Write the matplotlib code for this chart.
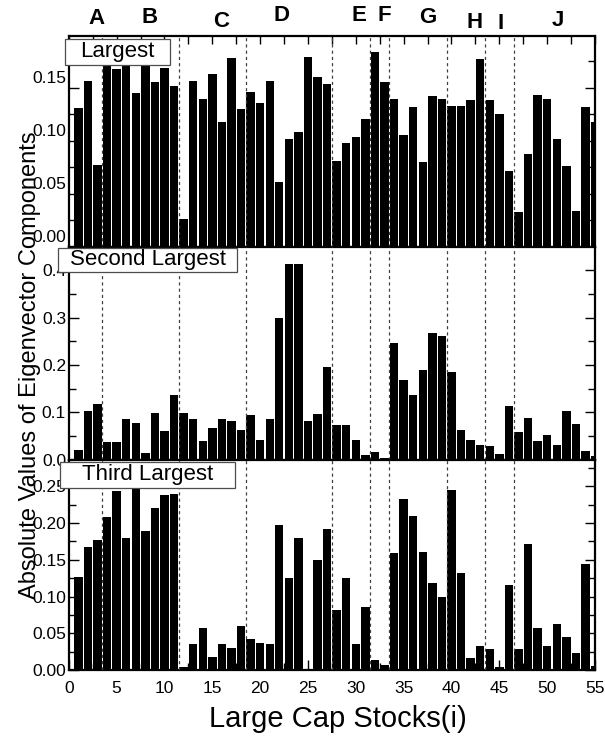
import numpy as np
import matplotlib
matplotlib.use("Agg")
import matplotlib.pyplot as plt
import matplotlib.transforms as mtransforms
from matplotlib.patches import Rectangle

plt.rcParams['font.family'] = ['Liberation Sans', 'DejaVu Sans']

# stock index 1..55
stocks = np.arange(1, 56)

largest = [0.131, 0.157, 0.077, 0.175, 0.168, 0.178, 0.145, 0.180, 0.156, 0.169,
           0.152, 0.026, 0.157, 0.140, 0.163, 0.118, 0.178, 0.130, 0.146, 0.136,
           0.157, 0.061, 0.102, 0.108, 0.179, 0.160, 0.154, 0.081, 0.098, 0.104,
           0.121, 0.184, 0.156, 0.140, 0.106, 0.132, 0.080, 0.142, 0.140, 0.133,
           0.133, 0.139, 0.177, 0.139, 0.125, 0.072, 0.033, 0.088, 0.143, 0.140,
           0.102, 0.076, 0.034, 0.132, 0.118]

second = [0.020, 0.102, 0.117, 0.038, 0.037, 0.085, 0.077, 0.013, 0.099, 0.061,
          0.136, 0.098, 0.086, 0.039, 0.067, 0.085, 0.082, 0.063, 0.095, 0.042,
          0.086, 0.298, 0.414, 0.414, 0.082, 0.097, 0.196, 0.072, 0.073, 0.042,
          0.0085, 0.0155, 0.003, 0.247, 0.168, 0.136, 0.189, 0.268, 0.261, 0.185,
          0.063, 0.041, 0.030, 0.0275, 0.012, 0.113, 0.059, 0.087, 0.039, 0.051,
          0.030, 0.1035, 0.075, 0.0175, 0.007]

third = [0.126, 0.168, 0.177, 0.208, 0.243, 0.180, 0.252, 0.189, 0.221, 0.238,
         0.240, 0.004, 0.035, 0.057, 0.018, 0.036, 0.030, 0.060, 0.042, 0.037,
         0.035, 0.197, 0.125, 0.180, 0.002, 0.150, 0.192, 0.082, 0.125, 0.036,
         0.086, 0.013, 0.007, 0.159, 0.233, 0.210, 0.161, 0.119, 0.0995, 0.245,
         0.132, 0.017, 0.033, 0.029, 0.0045, 0.116, 0.028, 0.172, 0.057, 0.033,
         0.063, 0.045, 0.023, 0.144, 0.006]

# sector boundaries and sector names
sector_edges = [3.5, 11.5, 18.5, 27.5, 31.5, 33.5, 39.5, 43.5, 46.5]
sectors = ['A', 'B', 'C', 'D', 'E', 'F', 'G', 'H', 'I', 'J']
sector_x = [2.9, 8.4, 15.9, 22.2, 30.3, 33.0, 37.5, 42.4, 45.1, 51.1]
sector_y = [1.085, 1.09, 1.07, 1.095, 1.095, 1.095, 1.09, 1.065, 1.06, 1.075]

W, H = 605, 736
fig = plt.figure(figsize=(W / 100, H / 100), dpi=100)

def px_axes(top, bottom, left=68.8, right=595):
    return fig.add_axes([left / W, 1 - bottom / H, (right - left) / W, (bottom - top) / H])

ax1 = px_axes(36, 247)
ax2 = px_axes(247, 459.5)
ax3 = px_axes(459.5, 670)

panels = [
    (ax1, largest, 0.199, np.arange(0, 0.16, 0.05), np.arange(0, 0.2, 0.025), '{:.2f}'),
    (ax2, second, 0.449, np.arange(0, 0.41, 0.1), np.arange(0, 0.45, 0.05), '{:.1f}'),
    (ax3, third, 0.2865, np.arange(0, 0.26, 0.05), np.arange(0, 0.28, 0.025), '{:.2f}'),
]

for ax, vals, ytop, major, minor, fmt in panels:
    ax.bar(stocks, vals, width=0.88, color='black', linewidth=0, zorder=2)
    for x in sector_edges:
        ax.axvline(x, color='0.25', lw=0.9, ls=(0, (2.5, 2.5)), zorder=3)
    ax.set_xlim(0, 55)
    ax.set_ylim(0, ytop)
    ax.set_yticks(major)
    ax.set_yticks(minor, minor=True)
    ax.set_yticklabels([fmt.format(v) for v in major])
    ax.tick_params(axis='y', which='both', direction='in', left=True, right=True,
                   labelsize=12.5, pad=2, width=1)
    ax.tick_params(axis='y', which='major', length=7)
    ax.tick_params(axis='y', which='minor', length=5)
    for s in ax.spines.values():
        s.set_linewidth(1.6)

# x ticks: on top of the upper panel and on the bottom of the lower one
for ax in (ax1, ax2):
    ax.tick_params(axis='x', which='both', bottom=False, labelbottom=False)
ax1.set_xticks(np.arange(0, 56, 2.5))
ax1.tick_params(axis='x', which='major', top=True, direction='in', length=6, width=1)
ax2.set_xticks([])
ax3.set_xticks(np.arange(0, 56, 5))
ax3.set_xticks(np.arange(0, 56, 2.5), minor=True)
ax3.tick_params(axis='x', which='both', direction='in', labelsize=12.5, pad=8, width=1)
ax3.tick_params(axis='x', which='major', length=7)
ax3.tick_params(axis='x', which='minor', length=5)

# labels of the upper panel sit a little above their ticks
shift = mtransforms.ScaledTranslation(0, 11 / 100, fig.dpi_scale_trans)
for lab in ax1.get_yticklabels():
    lab.set_transform(lab.get_transform() + shift)

for name, x, y in zip(sectors, sector_x, sector_y):
    ax1.text(x, y, name, transform=ax1.get_xaxis_transform(), ha='center', va='center',
             fontsize=16, fontweight='bold', clip_on=False)

# panel titles in framed boxes
for (x0, x1, y0, y1), title in [((65, 170, 39, 65), 'Largest'),
                                ((58, 237, 248, 272), 'Second Largest'),
                                ((60, 235, 462, 488), 'Third Largest')]:
    fig.patches.append(Rectangle((x0 / W, 1 - y1 / H), (x1 - x0) / W, (y1 - y0) / H,
                                 transform=fig.transFigure, facecolor='white',
                                 edgecolor='0.3', linewidth=0.9, zorder=4))
    fig.text((x0 + x1) / 2 / W, 1 - (y0 + y1) / 2 / H, title, ha='center', va='center',
             fontsize=16, zorder=5)

fig.text(338 / W, 1 - 719 / H, 'Large Cap Stocks(i)', ha='center', va='center', fontsize=21)
fig.text(30 / W, 1 - 365 / H, 'Absolute Values of Eigenvector Components', ha='center',
         va='center', rotation=90, fontsize=17)

fig.savefig('out.png', dpi=100)
